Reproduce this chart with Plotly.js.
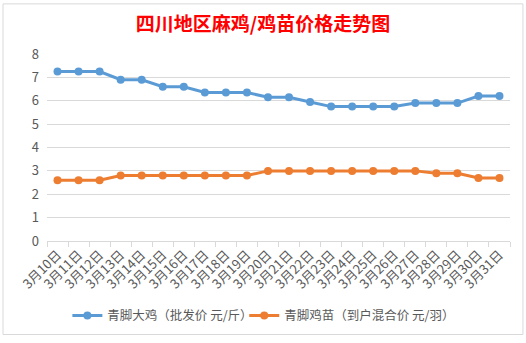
<!DOCTYPE html>
<html>
<head>
<meta charset="utf-8">
<script src="https://cdn.plot.ly/plotly-3.0.1.min.js"></script>
<style>
html,body{margin:0;padding:0;background:#fff;}
#chart{width:526px;height:343px;}
</style>
</head>
<body>
<div id="chart"></div>
<script>
const categories = ["3月10日","3月11日","3月12日","3月13日","3月14日","3月15日","3月16日","3月17日","3月18日","3月19日","3月20日","3月21日","3月22日","3月23日","3月24日","3月25日","3月26日","3月27日","3月28日","3月29日","3月30日","3月31日"];
const chickenPrice = [7.25,7.25,7.25,6.9,6.9,6.6,6.6,6.35,6.35,6.35,6.15,6.15,5.95,5.75,5.75,5.75,5.75,5.9,5.9,5.9,6.2,6.2];
const chickPrice = [2.6,2.6,2.6,2.8,2.8,2.8,2.8,2.8,2.8,2.8,3.0,3.0,3.0,3.0,3.0,3.0,3.0,3.0,2.9,2.9,2.7,2.7];
const seriesNames = ["青脚大鸡（批发价 元/斤）","青脚鸡苗（到户混合价 元/羽）"];
const yTicks = [0,1,2,3,4,5,6,7,8];

const font = '"Noto Sans CJK SC", "Microsoft YaHei", sans-serif';

const traces = [
  {x: categories, y: chickenPrice, name: seriesNames[0], type: 'scatter', mode: 'lines+markers',
   line: {color: '#5B9BD5', width: 3}, marker: {color: '#5B9BD5', size: 8}, legend: 'legend'},
  {x: categories, y: chickPrice, name: seriesNames[1], type: 'scatter', mode: 'lines+markers',
   line: {color: '#ED7D31', width: 3}, marker: {color: '#ED7D31', size: 8}, legend: 'legend2'}
];

const legendFont = {family: font, size: 12.5, color: '#595959'};

const layout = {
  width: 526, height: 343,
  margin: {l: 47, r: 16, t: 54, b: 99},
  paper_bgcolor: '#fff', plot_bgcolor: '#fff',
  font: {family: font, color: '#595959'},
  title: {text: '<b>四川地区麻鸡/鸡苗价格走势图</b>', font: {family: font, size: 19, color: '#FF0000'},
          x: 0.5, xanchor: 'center', y: 0.928, yanchor: 'middle'},
  showlegend: true,
  legend: {orientation: 'h', x: 0.044, xanchor: 'left', y: -0.4, yanchor: 'middle',
           font: legendFont, itemwidth: 30, bgcolor: 'rgba(0,0,0,0)'},
  legend2: {orientation: 'h', x: 0.426, xanchor: 'left', y: -0.4, yanchor: 'middle',
           font: legendFont, itemwidth: 30, bgcolor: 'rgba(0,0,0,0)'},
  xaxis: {type: 'category', range: [-0.5, 21.5], tickangle: -45, tickson: 'boundaries',
          ticks: 'outside', ticklen: 5, tickcolor: '#d9d9d9', showline: true, linecolor: '#d9d9d9',
          showgrid: false, zeroline: false, tickfont: {family: font, size: 13, color: '#595959'}, fixedrange: true},
  yaxis: {range: [0, 8], tickvals: yTicks, showgrid: true, gridcolor: '#d9d9d9', zeroline: false,
          showline: false, ticks: '', ticklabelstandoff: 7, tickfont: {family: font, size: 13, color: '#595959'}, fixedrange: true},
  shapes: [
    {type: 'rect', xref: 'paper', yref: 'paper', x0: -0.095, x1: 1.028, y0: -0.5, y1: 1.268,
     line: {color: '#d9d9d9', width: 1}, fillcolor: 'rgba(0,0,0,0)', layer: 'below'}
  ]
};

Plotly.newPlot('chart', traces, layout, {displayModeBar: false, staticPlot: true});
</script>
</body>
</html>
